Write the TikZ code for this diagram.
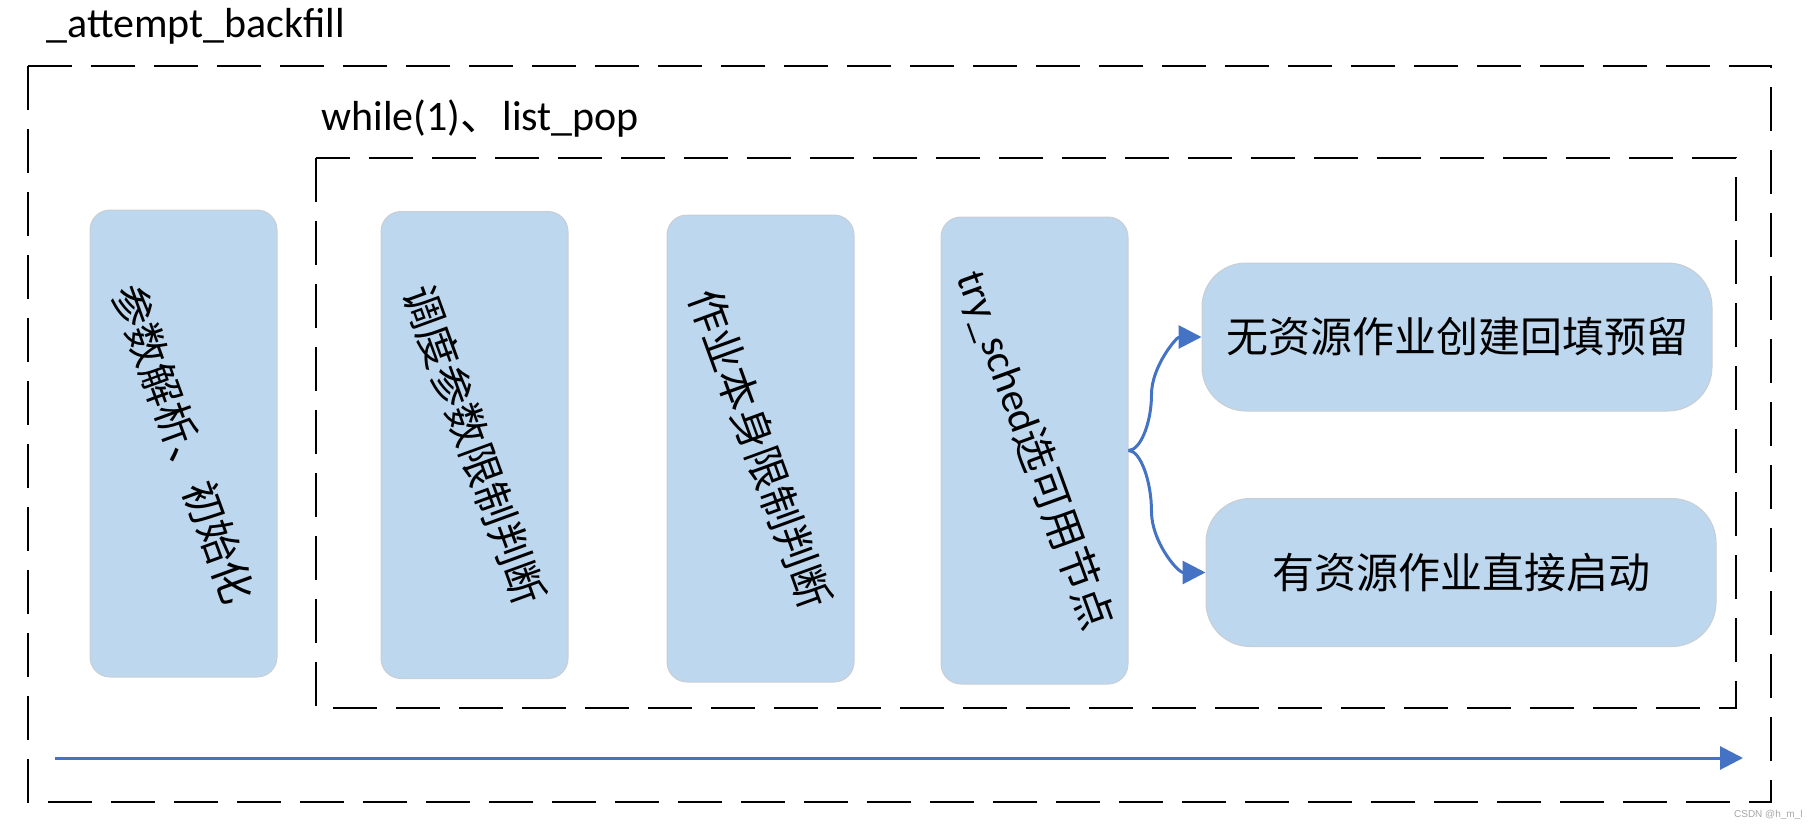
\documentclass[tikz,border=0pt]{standalone}
\usepackage{fontspec}
\setmainfont{Carlito}
\newfontfamily\cjk{Noto Sans CJK SC}
\newfontfamily\wmfont{Liberation Sans}
\usetikzlibrary{arrows.meta}
\definecolor{stepblue}{HTML}{BDD7EE}
\definecolor{stepedge}{HTML}{C9CED3}
\definecolor{flowblue}{HTML}{4472C4}

\begin{document}
\begin{tikzpicture}[x=0.5pt,y=-0.5pt,
    tallbox/.style={draw=stepedge,line width=0.5pt,fill=stepblue,rounded corners=10pt,
      minimum width=93.5pt,minimum height=233.5pt,inner sep=0pt,font=\fontsize{21}{25}\selectfont},
    widebox/.style={draw=stepedge,line width=0.5pt,fill=stepblue,rounded corners=22pt,
      minimum width=255pt,minimum height=74pt,inner sep=0pt,font=\cjk\fontsize{21}{25}\selectfont},
    frame/.style={line width=1.35pt,dash pattern=on 22pt off 9.5pt},
    flow/.style={flowblue,line width=1.5pt,-{Triangle[length=11.5pt,width=11.5pt]}}]
    \useasboundingbox (0,0) rectangle (1817,830);
    \draw[frame] (28,66) rectangle (1771,802);
    \draw[frame] (316,158) rectangle (1736,708);
    \node[anchor=base west,inner sep=0pt,font=\fontsize{21}{25}\selectfont] (fname) at (46,37) {\_attempt\_backfill};
    \node[anchor=base west,inner sep=0pt,font=\fontsize{21}{25}\selectfont] (loop) at (321,130) {while(1){\cjk 、}list\_pop};
    \foreach \n/\cx/\cy/\txt in {b1/183.5/443.5/{\cjk 参数解析、初始化},
        b2/474.5/445/{\cjk 调度参数限制判断},
        b3/760.5/448.5/{\cjk 作业本身限制判断},
        b4/1034.5/450.5/{try\_sched{\cjk 选可用节点}}}
      \node[tallbox] (\n) at (\cx,\cy) {\rotatebox{-70}{\txt}};
    \node[widebox] (b5) at (1457,337) {无资源作业创建回填预留};
    \node[widebox] (b6) at (1461,572.5) {有资源作业直接启动};
    \draw[flow] (b4.east) .. controls +(12,0) and +(0,28) .. ++(23,-56) .. controls +(0,-28) and +(-25,0) .. (b5.west);
    \draw[flow] (b4.east) .. controls +(12,0) and +(0,-30) .. ++(23,61) .. controls +(0,30) and +(-28,0) .. (b6.west);
    \coordinate (tstart) at (55,758);
    \coordinate (tend) at (1743,758);
    \draw[flow] (tstart) -- (tend);
    \node[anchor=east,inner sep=0pt,text=gray!70,font=\wmfont\fontsize{5}{6}\selectfont] (mark) at (1803,815) {CSDN @h\_m\_l};
\end{tikzpicture}
\end{document}
